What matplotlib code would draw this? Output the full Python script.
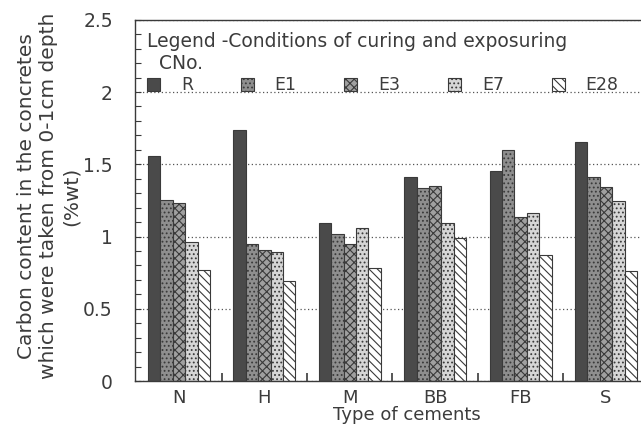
import numpy as np
import matplotlib
matplotlib.use("Agg")
import matplotlib.pyplot as plt
from matplotlib.ticker import MultipleLocator, FixedLocator

plt.rcParams['font.family'] = ['DejaVu Sans']
plt.rcParams['hatch.linewidth'] = 0.8

cements = ["N", "H", "M", "BB", "FB", "S"]
conditions = ["R", "E1", "E3", "E7", "E28"]
R = [1.56, 1.74, 1.09, 1.41, 1.45, 1.655]
E1 = [1.25, 0.945, 1.02, 1.335, 1.60, 1.41]
E3 = [1.235, 0.91, 0.95, 1.35, 1.135, 1.345]
E7 = [0.96, 0.89, 1.06, 1.095, 1.165, 1.245]
E28 = [0.77, 0.69, 0.78, 0.99, 0.875, 0.76]
series = [R, E1, E3, E7, E28]

faces = ['#4a4a4a', '#8e8e8e', '#a0a0a0', '#d6d6d6', 'white']
hatches = [None, '....', 'xxxx', '....', '\\\\\\\\']
ink = '#3a3a3a'
txt = '#3c3c3c'

fig = plt.figure(figsize=(6.41, 4.36), dpi=100)
W, H = 641, 436
left, right, top, bottom = 135, 648.7, 19.75, 381
ax = fig.add_axes([left / W, (H - bottom) / H, (right - left) / W, (bottom - top) / H])

x = np.arange(len(cements))
bw = 0.145
for i, (vals, fc, ht, lab) in enumerate(zip(series, faces, hatches, conditions)):
    ax.bar(x + (i - 2) * bw, vals, bw, color=fc, hatch=ht, edgecolor=ink,
           linewidth=0.8, label=lab, zorder=2)

ax.set_xlim(-0.515, 5.5)
ax.set_ylim(0, 2.5)
ax.set_axisbelow(True)
ax.set_yticks([0, 0.5, 1, 1.5, 2, 2.5])
ax.set_yticklabels(['0', '0.5', '1', '1.5', '2', '2.5'])
ax.yaxis.set_minor_locator(MultipleLocator(0.1))
ax.yaxis.grid(True, which='major', linestyle=(0, (1, 2)), color='#555555', linewidth=0.9)
ax.tick_params(axis='y', which='both', direction='in', length=4, width=0.8,
               color=ink, labelsize=13.5, labelcolor=txt, pad=16)
ax.set_xticks(x)
ax.set_xticklabels(cements)
ax.xaxis.set_minor_locator(FixedLocator(x[:-1] + 0.5))
ax.tick_params(axis='x', which='major', length=0, labelsize=13, labelcolor=txt, pad=6)
ax.tick_params(axis='x', which='minor', direction='in', length=6, width=1.2, color=ink)
for s in ax.spines.values():
    s.set_color(ink)
    s.set_linewidth(1.0)

ax.set_xlabel("Type of cements", fontsize=13, color=txt)
ax.xaxis.set_label_coords((407 - left) / (right - left), -0.07)

fig.text(49 / W, 1 - 196 / H,
         "Carbon content in the concretes\nwhich were taken from 0-1cm depth\n(%wt)",
         rotation=90, ha='center', va='center', multialignment='center',
         fontsize=14.5, color=txt, linespacing=1.2)

leg = ax.legend(ncol=5, loc='upper left', bbox_to_anchor=(0.0, 1.0), frameon=False,
                title="Legend -Conditions of curing and exposuring\n  CNo.",
                alignment='left', fontsize=12.5, title_fontsize=13.5,
                handlelength=0.75, handleheight=0.75, handletextpad=1.2,
                columnspacing=2.75, borderaxespad=0.3, labelspacing=0.2)
leg.get_title().set_color(txt)
for t in leg.get_texts():
    t.set_color(txt)

fig.savefig("out.png", dpi=100)
